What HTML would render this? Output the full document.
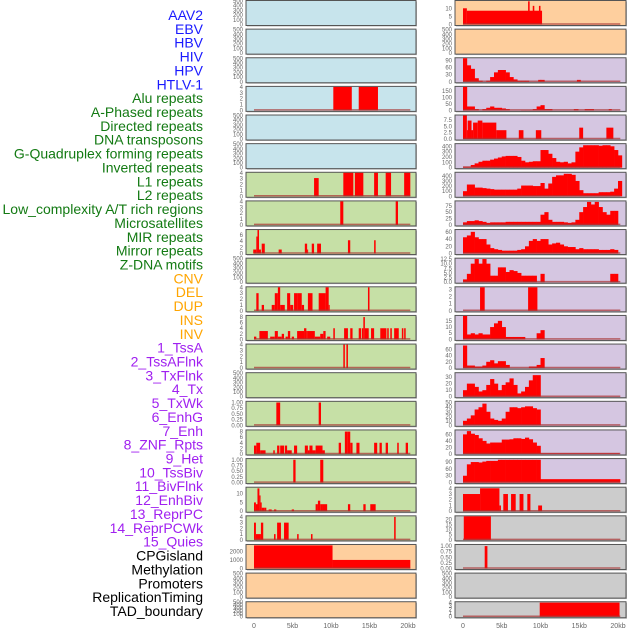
<!DOCTYPE html>
<html><head><meta charset="utf-8"><style>
body{margin:0;background:#fff;}
svg{display:block;font-family:"Liberation Sans",sans-serif;}
</style></head><body>
<svg id="chart" width="630" height="630" xmlns="http://www.w3.org/2000/svg"></svg>
<script>
const rowLabels=["AAV2","EBV","HBV","HIV","HPV","HTLV-1","Alu repeats","A-Phased repeats","Directed repeats","DNA transposons","G-Quadruplex forming repeats","Inverted repeats","L1 repeats","L2 repeats","Low_complexity A/T rich regions","Microsatellites","MIR repeats","Mirror repeats","Z-DNA motifs","CNV","DEL","DUP","INS","INV","1_TssA","2_TssAFlnk","3_TxFlnk","4_Tx","5_TxWk","6_EnhG","7_Enh","8_ZNF_Rpts","9_Het","10_TssBiv","11_BivFlnk","12_EnhBiv","13_ReprPC","14_ReprPCWk","15_Quies","CPGisland","Methylation","Promoters","ReplicationTiming","TAD_boundary"];
const labelGroups=[6,13,5,15,5];
const xTickValues=[0,5,10,15,20];
const xTickLabels=["0","5kb","10kb","15kb","20kb"];
const E=["0","100","200","300","400","500"];
const leftTicks=[E,E,E,["0","1","2","3","4"],E,E,["0","1","2","3","4"],["0","1","2","3","4"],["0","2","4","6"],E,["0","1","2","3","4"],["0","2","4","6","8"],["0","1","2","3","4"],E,["0.00","0.25","0.50","0.75","1.00"],["0","2","4","6","8"],["0.00","0.25","0.50","0.75","1.00"],["0","5","10"],["0","1","2","3","4"],["0","1000","2000"],E,E];
const leftYmax=[500,500,500,4,500,500,4,4,7.6,500,4,8.4,4,500,1.03,8.4,1.03,13.4,4.1,2750,500,500];
const leftBg=["#c7e4ec","#c7e4ec","#c7e4ec","#c7e4ec","#c7e4ec","#c7e4ec","#c6e0a6","#c6e0a6","#c6e0a6","#c6e0a6","#c6e0a6","#c6e0a6","#c6e0a6","#c6e0a6","#c6e0a6","#c6e0a6","#c6e0a6","#c6e0a6","#c6e0a6","#fecf9e","#fecf9e","#fecf9e"];
const leftSegs=[null,null,null,[[10.3,12.7,4],[13.6,16.1,4]],null,null,
[[7.8,8.4,3.1],[11.6,12.9,4],[13.1,14.2,4],[15.6,16.1,4],[17.1,17.8,4],[19.5,20.3,4]],
[[11.2,11.6,4],[18.4,18.7,4]],
[[-0.1,0.3,1.3],[0.3,0.45,5.5],[0.45,0.65,7.6],[0.65,0.9,1.3],[1.0,1.4,3.2],[3.2,3.6,1.3],[6.6,6.9,3.2],[6.9,7.0,1.3],[7.5,7.8,3.2],[8.2,8.7,3.2],[12.2,12.5,4.3],[15.6,15.8,4.3]],
null,
[[0.3,0.6,3],[1.0,1.3,1],[2.3,2.7,1],[2.7,3.1,3],[3.1,3.4,4],[3.4,4.0,1],[4.3,4.7,3],[4.7,5.1,1],[5.2,5.7,3],[5.7,6.2,3],[6.2,6.5,1],[7.0,7.6,3],[8.4,9.3,3],[9.3,9.7,4],[9.7,9.8,1],[14.8,15.0,4]],
[[0.0,0.3,1],[0.7,1.8,3],[2.1,2.7,1],[2.7,3.1,3],[3.1,3.6,1],[3.6,3.9,2],[4.1,4.4,1],[4.4,4.7,3],[4.9,5.2,1],[5.6,6.5,3],[6.5,6.8,4],[6.8,7.0,3],[7.0,7.9,3],[7.9,8.6,1],[8.6,9.0,2],[9.0,9.3,3],[9.5,9.9,1],[10.3,10.5,4],[11.7,12.2,4],[12.5,12.8,4],[13.6,13.9,4],[14.0,14.2,4],[14.2,14.4,8],[14.4,14.9,4],[15.2,15.6,4],[16.4,17.2,4],[17.3,17.5,4],[17.7,17.9,4],[18.2,18.8,4],[19.2,19.4,4],[19.5,19.7,4]],
[[11.6,11.8,4],[12.0,12.2,4]],
null,
[[2.9,3.4,1],[8.4,8.7,1]],
[[0,0.3,3],[0.3,0.8,4],[0.8,1.5,1.3],[2.5,2.7,1.3],[3.0,3.3,3],[3.4,3.9,3],[4.0,4.3,3],[4.3,4.9,1.3],[5.2,5.6,3],[6.6,7.0,3],[7.0,7.2,1.3],[7.2,7.6,3],[7.6,8.0,1.3],[8.0,8.9,3],[8.9,9.2,1.3],[11.0,11.3,4],[11.8,12.1,8],[12.1,12.5,8],[12.5,12.8,4],[13.3,13.7,4],[15.6,16.0,4],[16.3,16.6,4],[17.1,17.4,4],[18.6,18.8,4],[19.7,20.0,4]],
[[5.1,5.4,1],[8.6,9.0,1]],
[[0,0.25,5],[0.25,0.5,4],[0.45,0.7,13],[0.7,0.85,9],[0.85,1.0,5],[1.0,1.4,2],[1.4,1.6,2],[1.9,2.3,1],[2.6,2.9,1],[4.9,5.2,1],[8.0,8.3,4],[8.3,8.6,6],[8.6,8.9,4],[8.9,9.5,4],[12.2,12.5,4],[14.2,14.5,4],[15.1,15.8,4]],
[[0,0.25,3],[0.25,0.9,1],[0.9,1.2,3],[2.6,2.8,1],[3.0,3.5,3],[3.9,4.5,3],[5.6,5.8,1],[7.4,7.6,1],[18.2,18.4,4]],
[[0,10.2,2700],[10.2,20.3,1000]],
null,null];
const rightTicks=[["0","5","10"],E,["0","30","60","90"],["0","50","100","150"],["0.0","2.5","5.0","7.5"],["0","100","200","300","400"],["0","100","200","300","400"],["0","25","50","75"],["0","20","40","60"],["0.0","2.5","5.0","7.5","10.0","12.5"],["0","1","2","3"],["0","5","10","15"],["0","20","40","60"],["0","10","20","30"],["0","10","20","30","40","50"],["0","20","40","60"],["0","30","60","90"],["0","1","2","3","4"],["0","5","10","15","20"],["0.00","0.25","0.50","0.75","1.00"],E,["0","1","2","3","4"]];
const rightYmax=[14.5,500,100,180,9.3,440,460,92,65,12.7,3.3,19,75,36,52,72,103,4.1,23,1.05,500,4.1];
const rightBg=["#fecf9e","#fecf9e","#d5c6e1","#d5c6e1","#d5c6e1","#d5c6e1","#d5c6e1","#d5c6e1","#d5c6e1","#d5c6e1","#d5c6e1","#d5c6e1","#d5c6e1","#d5c6e1","#d5c6e1","#d5c6e1","#d5c6e1","#cccccc","#cccccc","#cccccc","#cccccc","#cccccc"];
// binned profiles: one value per 0.5kb starting at 0
const rightBins=[null,null,
[100,70,55,15,5,0,5,20,40,50,50,40,20,10,5,5,5,0,0,0,8],
[180,30,30,10,0,10,20,30,20,20,15,10,0,0,0,2,2,2,10,30,40,10,10],
null,
[20,20,50,80,110,130,130,150,170,190,210,220,220,220,200,130,100,110,120,120,330,330,260,180,110,100,110,80,100,300,380,420,420,420,420,410,420,420,400,330,230],
[100,230,230,170,170,160,150,140,130,130,130,130,130,130,150,210,210,210,200,200,260,150,250,380,410,410,440,440,420,300,120,60,60,60,60,80,80,80,90,150,300],
[10,15,15,18,15,12,8,10,10,10,10,12,12,12,12,12,12,12,12,12,40,50,20,12,12,12,10,8,10,20,50,70,90,80,90,70,50,40,55,55,0],
[45,50,60,45,40,40,25,15,12,10,8,8,8,8,10,12,20,35,40,35,40,40,25,28,30,25,20,18,18,12,15,12,12,12,12,10,10,10,12,10,0],
[1.5,4.5,10,12.5,10,12.5,10,3.5,3.5,8,8,5.5,6.5,6,5,3.5,3.5,3.5,3.5,0,4.5,0,0,0,0,0,0,0,0,0,0,0,0,0,0,0,0,0,4.5,4.5,0],
null,
[19,4,5,4,5,4,4,10,13,15,10,2,2,2,2,2,0,0,0,5,7.5],
[72,8,8,5,5,8,20,25,15,22,22,10,0,0,0,0,0,5,5,10,32],
[10,20,20,15,8,10,18,27,20,10,18,22,28,18,5,8,15,25,33,33],
[10,15,22,35,40,48,30,15,12,10,15,30,40,40,38,40,42,42,38,35],
[60,70,62,58,48,40,32,35,35,35,44,44,45,48,48,46,50,45,35,25],
[30,80,90,90,88,92,95,95,95,100,100,100,100,100,100,100,100,100,100,100],
null,null,null,null,null];
const rightSegs=[
[[0,0.5,10],[0.5,10.2,8.5],[8.4,8.6,14.3],[9.0,9.2,11.5],[9.8,10.0,11.5]],
null,[[9.7,10.1,8],[14.7,15.2,8]],[[14.3,14.9,10],[15.7,16.9,10],[18.8,19.2,10]],
[[0,0.5,9.3],[0.5,0.6,3.5],[0.6,1.1,7.3],[1.1,1.3,3.5],[1.3,1.9,6.5],[1.9,2.5,7.3],[2.5,4.3,6.5],[4.3,5.6,3.5],[7.2,7.8,3.5],[9.4,10.1,3.5],[15.0,15.5,4.5],[18.5,19.4,4.5]],
null,null,null,null,null,[[2.2,2.8,3.3],[8.4,9.6,3.3]],null,null,null,null,[[10.0,20.2,2]],[[10.0,20.3,15]],
[[0,2.2,3],[2.2,4.7,4],[4.7,4.9,1],[5.2,5.8,3],[6.2,6.8,3],[7.3,7.8,3],[8.3,8.7,3],[9.7,10.2,1]],
[[0.1,3.6,23]],[[2.8,3.15,1]],null,[[9.9,20.2,4]]];

const svg=document.getElementById('chart');
const NS="http://www.w3.org/2000/svg";
function mk(tag,attrs,parent){const e=document.createElementNS(NS,tag);for(const k in attrs)e.setAttribute(k,attrs[k]);(parent||svg).appendChild(e);return e;}
const cols=[{x0:246,x1:416,zero:254,per:7.7,ticks:leftTicks,ymax:leftYmax,bg:leftBg,segs:leftSegs,bins:null,name:'left'},
{x0:455,x1:626,zero:463,per:7.75,ticks:rightTicks,ymax:rightYmax,bg:rightBg,segs:rightSegs,bins:rightBins,name:'right'}];
function rowTop(i){return 0.5+i*28.63;}
function rowH(i){return i===21?16:25;}

const labelColors=["#1a1aff","#137a13","#ffa500","#a020f0","#000000"];
let li=0;
labelGroups.forEach((n,g)=>{for(let k=0;k<n;k++){
  const t=mk('text',{x:203,y:15+li*13.86+5,'text-anchor':'end','font-size':'14',fill:labelColors[g]});
  
  
  t.textContent=rowLabels[li];li++;}});

cols.forEach(c=>{
  const sx=kb=>c.zero+kb*c.per;
  for(let i=0;i<22;i++){
    const top=rowTop(i),h=rowH(i),bot=top+h-1;
    const g=mk('g',{});
    
    
    mk('rect',{x:c.x0+1,y:top+1,width:c.x1-c.x0,height:h,fill:'#bbb'},g);
    mk('rect',{x:c.x0,y:top,width:c.x1-c.x0,height:h,fill:c.bg[i],stroke:'#555','stroke-width':1},g);
    const ym=c.ymax[i];
    const sy=v=>bot-(v/ym)*(h-1.5);
    const tk=c.ticks[i];
    tk.forEach(s=>{const v=parseFloat(s);
      const t=mk('text',{x:c.x0-3,y:sy(v)+2,'text-anchor':'end','font-size':'6',fill:'#666'},g);
      
      
      t.textContent=s;});
    let has=false;
    const bins=c.bins?c.bins[i]:null;
    if(bins){has=true;bins.forEach((v,k)=>{if(v<=0)return;
      const r=mk('rect',{x:sx(k*0.5),y:sy(v),width:0.5*c.per+0.3,height:bot-sy(v),fill:'#ff0000'},g);
      
      });}
    const segs=c.segs[i];
    if(segs){has=true;segs.forEach(s=>{
      const r=mk('rect',{x:sx(s[0]),y:sy(s[2]),width:Math.max(1,(s[1]-s[0])*c.per),height:bot-sy(s[2]),fill:'#ff0000'},g);
      
      });}
    if(has){mk('line',{x1:sx(0),x2:sx(20.3),y1:bot-0.5,y2:bot-0.5,stroke:'#a33','stroke-opacity':0.7,'stroke-width':1.5},g);}
  }
  xTickValues.forEach((v,k)=>{
    const t=mk('text',{x:sx(v),y:628,'text-anchor':'middle','font-size':'7',fill:'#666'});
    
    
    t.textContent=xTickLabels[k];});
});
</script>
</body></html>
